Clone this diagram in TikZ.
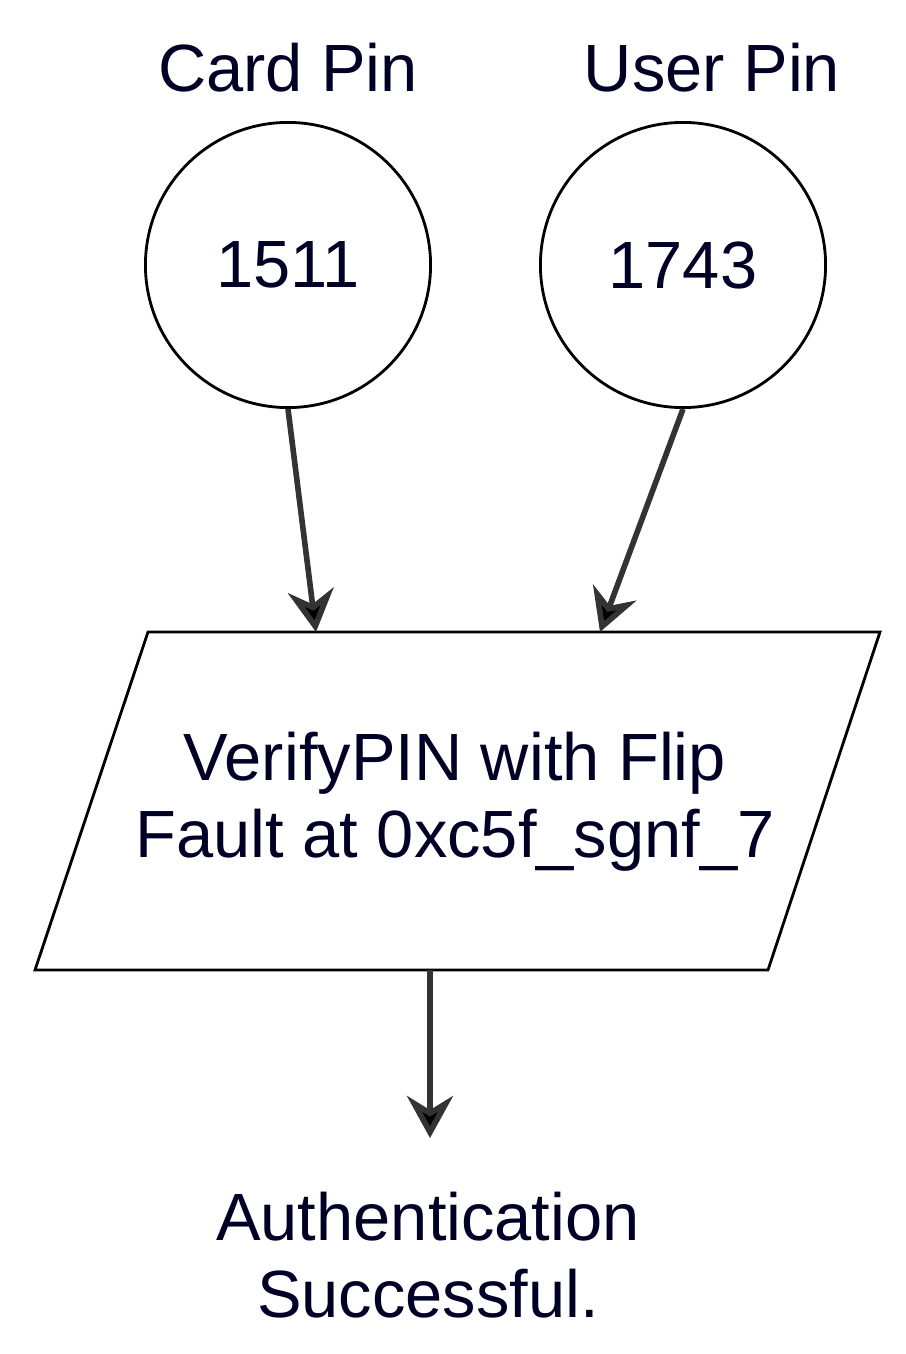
\documentclass[tikz,border=0pt]{standalone}
\usepackage{fontspec}
\setmainfont{Liberation Sans}
\usetikzlibrary{arrows.meta}
\begin{document}
\begin{tikzpicture}[x=0.01cm,y=-0.01cm,
  pin/.style={circle, draw, thick, minimum size=2.85cm, inner sep=0pt},
  txt/.style={align=center, font=\fontsize{19}{22}\selectfont, text=black!85!blue},
  line/.style={draw=black!80, line width=1.6pt, -{Stealth[length=0.42cm,width=0.46cm,inset=0.14cm,fill=black]}}]
  \useasboundingbox (0,0) rectangle (906,1354);
  % inputs
  \node[txt] (cardlbl) at (288,68) {Card Pin};
  \node[txt] (userlbl) at (712,68) {User Pin};
  \node[pin, txt] (card) at (288,265) {1511};
  \node[pin, txt] (user) at (683,265) {1743};
  % parallelogram
  \coordinate (tl) at (148,632);
  \coordinate (tr) at (880,632);
  \coordinate (br) at (768,970);
  \coordinate (bl) at (35,970);
  \draw[thick] (tl) -- (tr) -- (br) -- (bl) -- cycle;
  \node[txt] (verify) at (455,802) {VerifyPIN with Flip\\Fault at 0xc5f\_sgnf\_7};
  \coordinate (in1) at (316,632);
  \coordinate (in2) at (600,632);
  \coordinate (out) at (430,970);
  % result
  \node[txt] (result) at (428,1255) {Authentication\\Successful.};
  \coordinate (resin) at (430,1138);
  \path[line] (card.south) -- (in1);
  \path[line] (user.south) -- (in2);
  \path[line] (out) -- (resin);
\end{tikzpicture}
\end{document}
